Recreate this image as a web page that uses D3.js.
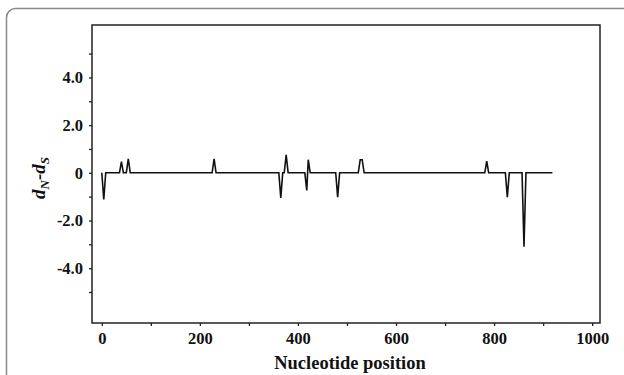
<!DOCTYPE html>
<html>
<head>
<meta charset="utf-8">
<script src="https://cdn.jsdelivr.net/npm/d3@7"></script>
<style>
  body { margin: 0; background: #fff; }
</style>
</head>
<body>
<script>
// sliding window dN-dS along the sequence
var positions = [0, 4, 8,
  36, 40, 44, 50, 54, 58,
  225, 229, 233,
  361, 365, 369, 372, 376, 380,
  414, 418, 421, 425,
  477, 481, 485,
  523, 527, 531, 535,
  781, 785, 789,
  823, 827, 831,
  857, 861, 865, 919];
var dnds = [0, -1.12, 0,
  0, 0.47, 0, 0, 0.59, 0,
  0, 0.59, 0,
  0, -1.05, 0, 0, 0.75, 0,
  0, -0.74, 0.55, 0,
  0, -1.02, 0,
  0, 0.55, 0.55, 0,
  0, 0.49, 0,
  0, -1.02, 0,
  0, -3.1, 0, 0];

var xTicks = d3.range(0, 1001, 100);
var xLabels = [0, 200, 400, 600, 800, 1000];
var yTicks = [-5, -4, -3, -2, -1, 0, 1, 2, 3, 4, 5];
var yLabels = {"4": "4.0", "2": "2.0", "0": "0", "-2": "-2.0", "-4": "-4.0"};

var serif = '"Liberation Serif", "Times New Roman", serif';

var margin = {top: 25, right: 24, bottom: 52, left: 92},
    width = 624 - margin.left - margin.right,
    height = 375 - margin.top - margin.bottom;

var svg = d3.select("body").append("svg")
    .attr("width", 624)
    .attr("height", 375);

// outer frame, clipped by the page edges
svg.append("rect")
    .attr("x", 6.5).attr("y", 8.5)
    .attr("width", 640).attr("height", 400)
    .attr("rx", 9)
    .attr("fill", "none")
    .attr("stroke", "#8a8a8a")
    .attr("stroke-width", 1.5);

var g = svg.append("g")
    .attr("transform", "translate(" + margin.left + "," + margin.top + ")");

var x = d3.scaleLinear().domain([-20, 1016]).range([0, width]);
var y = d3.scaleLinear().domain([-6.3, 6.2]).range([height, 0]);

var xAxis = g.append("g")
    .attr("transform", "translate(0," + height + ")")
    .call(d3.axisBottom(x).tickValues(xTicks).tickSize(3).tickPadding(6)
      .tickFormat(function(d) { return xLabels.indexOf(d) >= 0 ? d : ""; }));

var yAxis = g.append("g")
    .call(d3.axisLeft(y).tickValues(yTicks).tickSize(3).tickPadding(6)
      .tickFormat(function(d) { return yLabels[d] || ""; }));

[xAxis, yAxis].forEach(function(a) {
  a.select(".domain").remove();
  a.attr("font-family", null).attr("font-size", null);
  a.selectAll("line").attr("stroke", "#222").attr("stroke-width", 1.3);
  a.selectAll("text")
    .style("font-family", serif)
    .style("font-weight", "bold")
    .style("font-size", "16.5px")
    .attr("fill", "#111");
});

g.append("rect")
    .attr("width", width).attr("height", height)
    .attr("fill", "none")
    .attr("stroke", "#222")
    .attr("stroke-width", 1.5);

var line = d3.line()
    .x(function(d, i) { return x(positions[i]); })
    .y(function(d) { return y(d); });

g.append("path")
    .datum(dnds)
    .attr("d", line)
    .attr("fill", "none")
    .attr("stroke", "#111")
    .attr("stroke-width", 1.6)
    .attr("stroke-linejoin", "miter");

svg.append("text")
    .attr("x", 350).attr("y", 369)
    .attr("text-anchor", "middle")
    .style("font-family", serif)
    .style("font-weight", "bold")
    .style("font-size", "18.5px")
    .attr("fill", "#111")
    .text("Nucleotide position");

var yt = svg.append("text")
    .attr("transform", "translate(45,178) rotate(-90)")
    .attr("text-anchor", "middle")
    .style("font-family", serif)
    .style("font-weight", "bold")
    .style("font-style", "italic")
    .style("font-size", "19px")
    .attr("fill", "#111");
yt.append("tspan").text("d");
yt.append("tspan").style("font-size", "13px").attr("dy", 4).text("N");
yt.append("tspan").attr("dy", -4).text("-d");
yt.append("tspan").style("font-size", "13px").attr("dy", 4).text("S");
</script>
</body>
</html>
